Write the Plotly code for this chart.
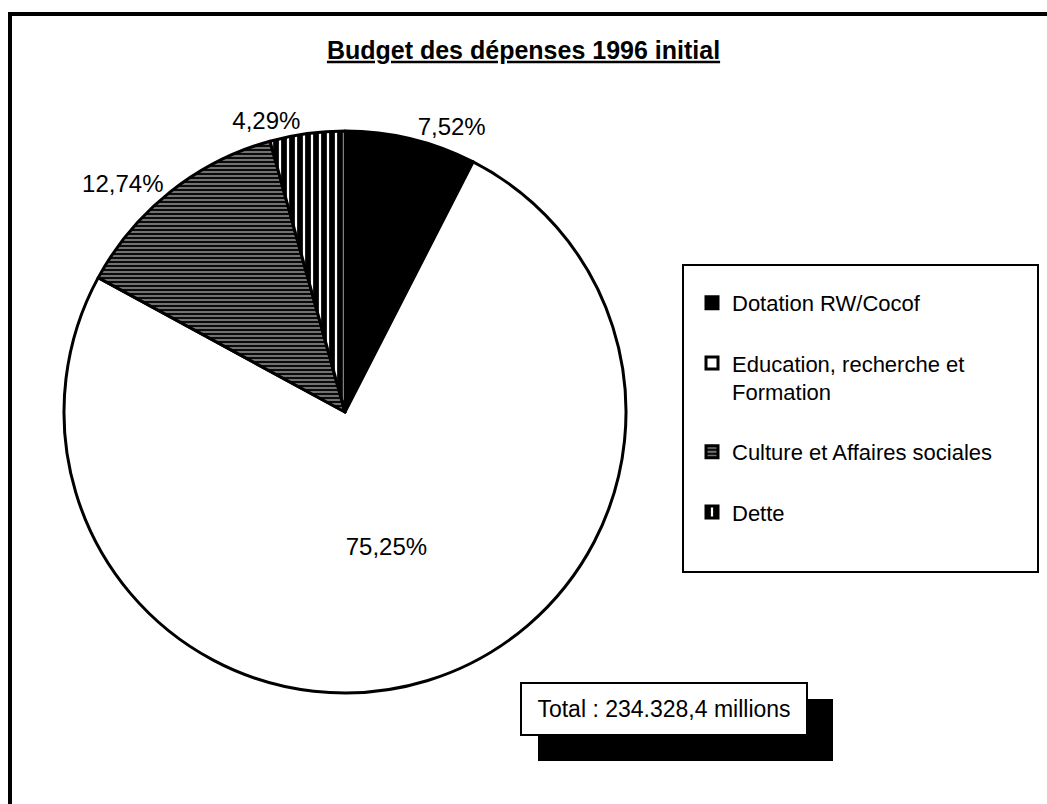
import plotly.graph_objects as go

# ---- data ----
categories = ["Dotation RW/Cocof", "Education, recherche et<br>Formation",
              "Culture et Affaires sociales", "Dette"]
shares = [7.52, 75.25, 12.74, 4.29]
title_text = "Budget des dépenses 1996 initial"
total_text = "Total : 234.328,4 millions"

labels_txt = [f"{v:.2f}".replace(".", ",") + "%" for v in shares]
# blank line after each legend entry reproduces the wide legend spacing
legend_labels = [c + "<br> " for c in categories[:-1]] + [categories[-1]]

W, H = 1047, 804
FONT = "Liberation Sans, Arial, Helvetica, sans-serif"


def px(x):
    return x / W


def py(y):
    return 1 - y / H


fig = go.Figure()
fig.add_trace(go.Pie(
    labels=legend_labels,
    values=shares,
    text=labels_txt,
    texttemplate="%{text}",
    hovertemplate="%{label}: %{text}<extra></extra>",
    textposition=["outside", "inside", "outside", "outside"],
    insidetextorientation="horizontal",
    sort=False,
    direction="clockwise",
    rotation=0,
    hole=0,
    marker=dict(
        colors=["#000000", "#ffffff", "#6a6a6a", "#ffffff"],
        line=dict(color="#000000", width=3),
        pattern=dict(
            shape=["", "", "-", "|"],
            fgcolor=["#000000", "#000000", "#0a0a0a", "#000000"],
            bgcolor=["#000000", "#ffffff", "#7c7c7c", "#ffffff"],
            size=[8, 8, 4, 8],
            solidity=[0.3, 0.3, 0.55, 0.72],
        ),
    ),
    textfont=dict(family=FONT, size=24, color="#000000"),
    outsidetextfont=dict(family=FONT, size=24, color="#000000"),
    insidetextfont=dict(family=FONT, size=24, color="#000000"),
    domain=dict(x=[px(64), px(626)], y=[py(693), py(131)]),
    showlegend=True,
))

fig.update_layout(
    width=W, height=H,
    margin=dict(l=0, r=0, t=0, b=0),
    paper_bgcolor="#ffffff",
    plot_bgcolor="#ffffff",
    font=dict(family=FONT, size=23, color="#000000"),
    title=dict(
        text=f"<b><u>{title_text}</u></b>",
        x=0.5, xanchor="center", xref="paper",
        y=py(50), yanchor="middle", yref="paper",
        font=dict(family=FONT, size=25, color="#000000"),
    ),
    legend=dict(
        x=px(692), y=py(282), xanchor="left", yanchor="top",
        xref="paper", yref="paper",
        bgcolor="rgba(0,0,0,0)", borderwidth=0,
        font=dict(family=FONT, size=22, color="#000000"),
        valign="top",
        itemclick=False,
    ),
    shapes=[
        # page frame
        dict(type="line", xref="paper", yref="paper",
             x0=px(8), x1=1.0, y0=py(14), y1=py(14),
             line=dict(color="#000000", width=4)),
        dict(type="line", xref="paper", yref="paper",
             x0=px(10), x1=px(10), y0=py(12), y1=0,
             line=dict(color="#000000", width=4)),
        # legend box
        dict(type="rect", xref="paper", yref="paper",
             x0=px(683), x1=px(1038), y0=py(572), y1=py(265),
             line=dict(color="#000000", width=2), layer="below"),
        # total box shadow
        dict(type="rect", xref="paper", yref="paper",
             x0=px(538), x1=px(833), y0=py(761), y1=py(699),
             fillcolor="#000000", line=dict(color="#000000", width=0),
             layer="below"),
    ],
    annotations=[
        dict(text=total_text, xref="paper", yref="paper",
             x=px(664), y=py(709), xanchor="center", yanchor="middle",
             showarrow=False, width=282, height=48,
             bgcolor="#ffffff", bordercolor="#000000", borderwidth=2,
             font=dict(family=FONT, size=23, color="#000000")),
    ],
)

fig.write_html("out.html")
